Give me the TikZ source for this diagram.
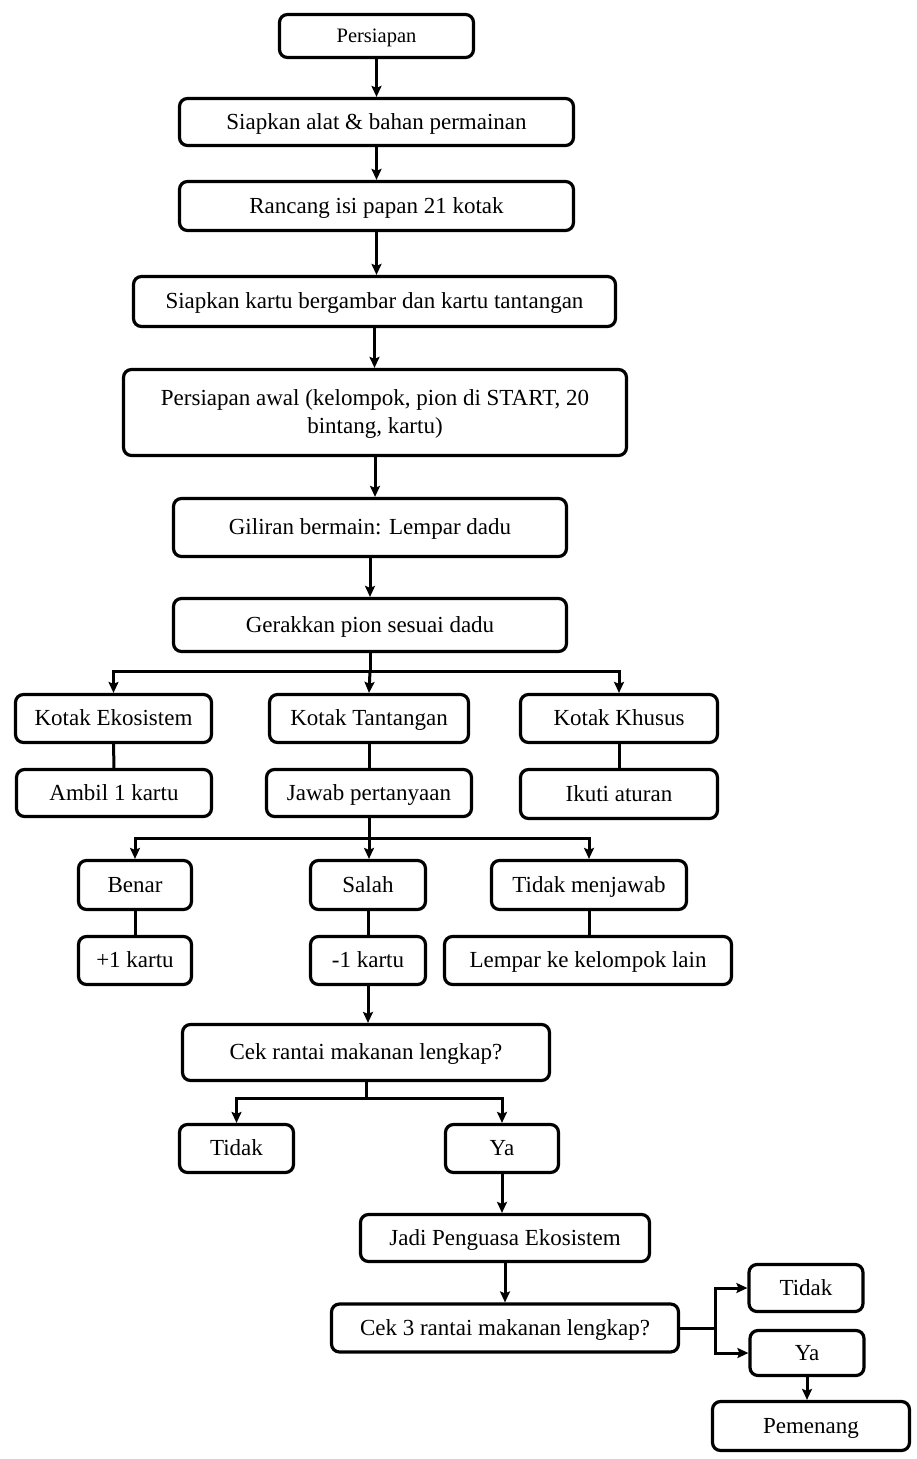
\documentclass[tikz,border=0pt]{standalone}
\usepackage{fontspec}
\setmainfont{Liberation Serif}
\usetikzlibrary{positioning, arrows.meta}

\tikzset{
  box/.style={draw, line width=3.2pt, rounded corners=8pt, align=center, inner sep=0pt,
    text height=18pt, text depth=4pt, font=\fontsize{23}{28}\selectfont},
  flow/.style={line width=3pt, -{Stealth[length=11pt, width=10pt, inset=2pt]}},
  link/.style={line width=3pt}
}

\begin{document}
\begin{tikzpicture}[x=1pt, y=-1pt]
    \useasboundingbox (0,0) rectangle (916,1459);

    % Tahap persiapan
    \node[box, minimum width=194pt, minimum height=43pt, text height=16pt, text depth=3pt, font=\fontsize{20.5}{24}\selectfont] (prep) at (376.5,36) {Persiapan};
    \node[box, minimum width=394pt, minimum height=47pt] (alat) at (376.5,122) {Siapkan alat \& bahan permainan};
    \node[box, minimum width=394pt, minimum height=49pt] (rancang) at (376.5,206) {Rancang isi papan 21 kotak};
    \node[box, minimum width=482pt, minimum height=50pt] (kartu) at (374.5,301.5) {Siapkan kartu bergambar dan kartu tantangan};
    \node[box, minimum width=503pt, minimum height=86pt, text height=46pt] (awal) at (375,412.5) {Persiapan awal (kelompok, pion di START, 20\\bintang, kartu)};
    \node[box, minimum width=393pt, minimum height=58pt] (giliran) at (370,527.5) {Giliran bermain: Lempar dadu};
    \node[box, minimum width=393pt, minimum height=53pt] (gerak) at (370,625) {Gerakkan pion sesuai dadu};

    % Jenis kotak
    \node[box, minimum width=196pt, minimum height=48pt] (eko) at (113.5,718.5) {Kotak Ekosistem};
    \node[box, minimum width=199pt, minimum height=48pt] (tantang) at (369,718.5) {Kotak Tantangan};
    \node[box, minimum width=197pt, minimum height=48pt] (khusus) at (619,718.5) {Kotak Khusus};
    \node[box, minimum width=195pt, minimum height=47pt] (ambil) at (114,793) {Ambil 1 kartu};
    \node[box, minimum width=205pt, minimum height=47pt] (jawab) at (369,793) {Jawab pertanyaan};
    \node[box, minimum width=197pt, minimum height=49pt] (ikuti) at (619,794) {Ikuti aturan};

    % Jawaban
    \node[box, minimum width=113pt, minimum height=49pt] (benar) at (135,885) {Benar};
    \node[box, minimum width=115pt, minimum height=49pt] (salah) at (368,885) {Salah};
    \node[box, minimum width=195pt, minimum height=49pt] (diam) at (589,885) {Tidak menjawab};
    \node[box, minimum width=113pt, minimum height=48pt] (plus) at (135,960.5) {+1 kartu};
    \node[box, minimum width=115pt, minimum height=48pt] (minus) at (368,960.5) {-1 kartu};
    \node[box, minimum width=287pt, minimum height=48pt] (lempar) at (588,960.5) {Lempar ke kelompok lain};

    % Cek rantai makanan
    \node[box, minimum width=367pt, minimum height=56pt] (cek) at (366,1052.5) {Cek rantai makanan lengkap?};
    \node[box, minimum width=114pt, minimum height=48pt] (tidak1) at (236.5,1148.5) {Tidak};
    \node[box, minimum width=113pt, minimum height=48pt] (ya1) at (502,1148.5) {Ya};
    \node[box, minimum width=289pt, minimum height=47pt] (jadi) at (505,1238) {Jadi Penguasa Ekosistem};
    \node[box, minimum width=347pt, minimum height=48pt] (cek3) at (505,1328) {Cek 3 rantai makanan lengkap?};
    \node[box, minimum width=114pt, minimum height=47pt] (tidak2) at (806,1288) {Tidak};
    \node[box, minimum width=114pt, minimum height=45pt] (ya2) at (807,1353) {Ya};
    \node[box, minimum width=197pt, minimum height=49pt] (menang) at (811,1426) {Pemenang};

    % Alur utama
    \draw[flow] (prep.south) -- (prep.south |- alat.north);
    \draw[flow] (alat.south) -- (alat.south |- rancang.north);
    \draw[flow] (rancang.south) -- (rancang.south |- kartu.north);
    \draw[flow] (kartu.south) -- (kartu.south |- awal.north);
    \draw[flow] (awal.south) -- (awal.south |- giliran.north);
    \draw[flow] (giliran.south) -- (giliran.south |- gerak.north);

    % Cabang kotak
    \coordinate (gsplit) at (370,671);
    \draw[link] (gerak.south) -- (gsplit);
    \draw[flow] (gsplit) -| (eko.north);
    \draw[flow] (gsplit) -- (tantang.north);
    \draw[flow] (gsplit) -| (khusus.north);
    \draw[link] (eko) -- (ambil);
    \draw[link] (tantang) -- (jawab);
    \draw[link] (khusus) -- (ikuti);

    % Cabang jawaban
    \coordinate (jsplit) at (369,838);
    \draw[link] (jawab.south) -- (jsplit);
    \draw[flow] (jsplit) -| (benar.north);
    \draw[flow] (jsplit) -- (jsplit |- salah.north);
    \draw[flow] (jsplit) -| (diam.north);
    \draw[link] (benar) -- (plus);
    \draw[link] (salah) -- (minus);
    \draw[link] (diam) -- (diam |- lempar.north);
    \draw[flow] (minus.south) -- (minus.south |- cek.north);

    % Cabang cek
    \coordinate (csplit) at (366,1098);
    \draw[link] (cek.south) -- (csplit);
    \draw[flow] (csplit) -| (tidak1.north);
    \draw[flow] (csplit) -| (ya1.north);
    \draw[flow] (ya1.south) -- (ya1.south |- jadi.north);
    \draw[flow] (jadi.south) -- (jadi.south |- cek3.north);

    % Cabang cek 3
    \coordinate (c3split) at (715,1328);
    \draw[link] (cek3.east) -- (c3split);
    \draw[flow] (c3split) |- (tidak2.west);
    \draw[flow] (c3split) |- (ya2.west);
    \draw[flow] (ya2.south) -- (ya2.south |- menang.north);
\end{tikzpicture}
\end{document}
